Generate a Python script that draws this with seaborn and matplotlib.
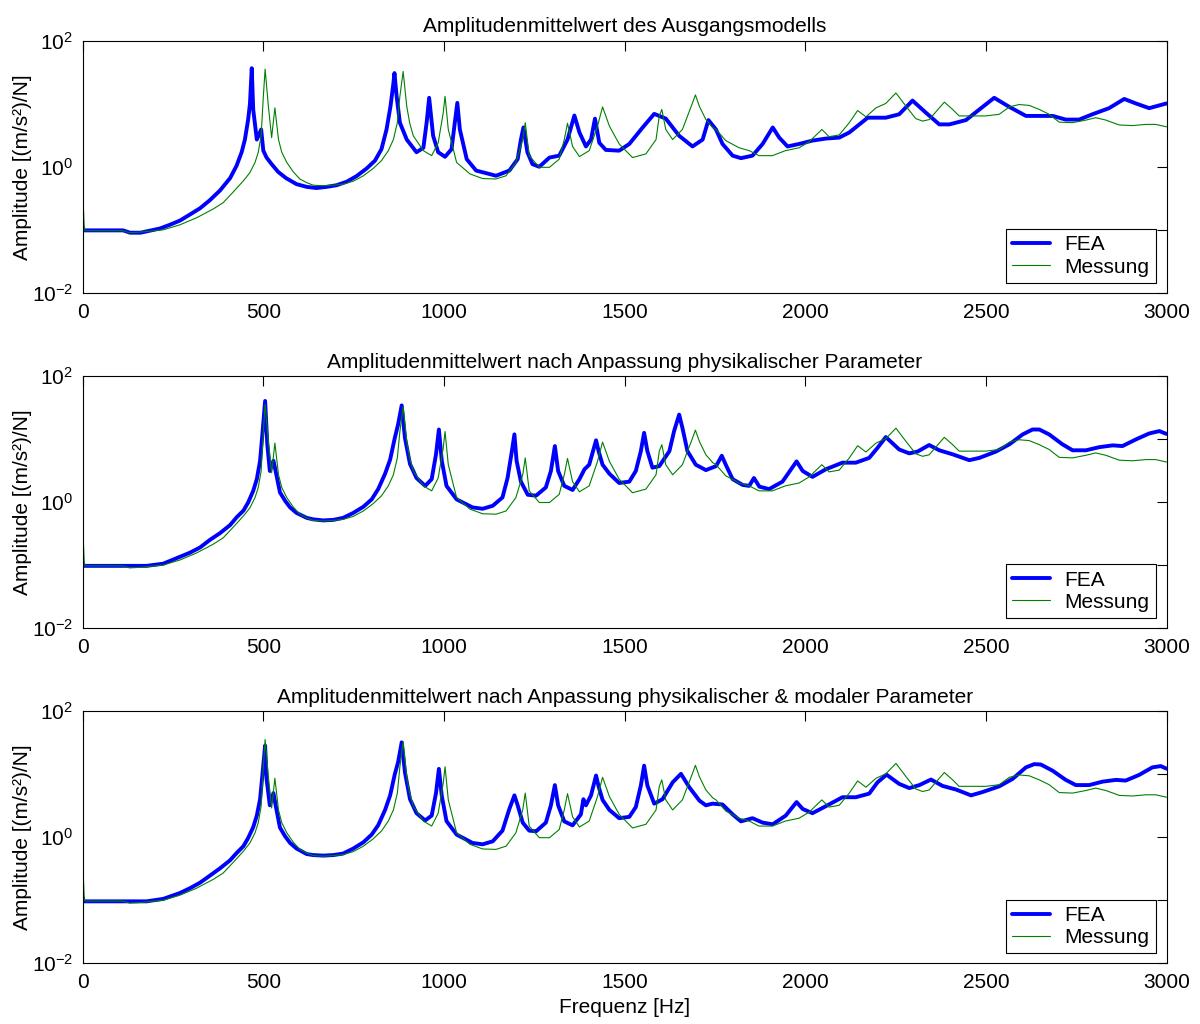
import matplotlib
matplotlib.use("Agg")
import matplotlib.pyplot as plt
import seaborn as sns
from matplotlib.ticker import FixedLocator, NullFormatter, LogFormatterSciNotation

# Messung (gleich in allen drei Bildern): (Frequenz Hz, Amplitude)
mess_pts = [
    (0, 0.10), (2, 0.23), (4, 0.12), (6, 0.097), (110, 0.097), (130, 0.090),
    (160, 0.092), (223, 0.100), (269, 0.12), (315, 0.155), (362, 0.215), (389, 0.27),
    (417, 0.40), (445, 0.60), (463, 0.81), (477, 1.17), (486, 1.7), (494, 3.1),
    (500, 13.0), (505, 35.4), (514, 9.1), (523, 2.9), (532, 8.6), (542, 2.7),
    (551, 1.7), (565, 1.17), (583, 0.83), (601, 0.64), (620, 0.56), (638, 0.51),
    (666, 0.50), (694, 0.51), (721, 0.53), (749, 0.59), (777, 0.72), (804, 0.94),
    (827, 1.25), (846, 1.8), (860, 2.7), (871, 5.0), (878, 13.1), (887, 32.5),
    (897, 9.1), (905, 5.0), (915, 3.1), (943, 1.8), (966, 1.5), (984, 2.4),
    (998, 7.2), (1003, 13.1), (1012, 3.9), (1035, 1.17), (1072, 0.77), (1107, 0.65),
    (1144, 0.64), (1172, 0.72), (1199, 1.17), (1218, 2.7), (1225, 5.0), (1236, 1.5),
    (1264, 0.98), (1292, 0.98), (1319, 1.32), (1333, 2.7), (1342, 4.9), (1356, 2.1),
    (1375, 1.45), (1402, 1.8), (1425, 4.4), (1439, 8.9), (1458, 4.4), (1485, 2.3),
    (1522, 1.4), (1559, 1.6), (1587, 2.7), (1596, 6.4), (1603, 8.1), (1614, 3.9),
    (1633, 2.7), (1660, 3.9), (1688, 10.3), (1696, 13.8), (1707, 9.1), (1725, 5.6),
    (1744, 4.2), (1753, 3.9), (1780, 2.6), (1817, 2.0), (1845, 1.8), (1872, 1.5),
    (1909, 1.5), (1934, 1.7), (1945, 1.8), (1983, 2.0), (2011, 2.5), (2046, 3.9),
    (2066, 3.0), (2094, 3.2), (2122, 5.0), (2145, 7.8), (2168, 6.2), (2196, 8.6),
    (2223, 10.1), (2251, 14.8), (2279, 9.1), (2306, 5.8), (2325, 5.3), (2343, 5.6),
    (2385, 10.6), (2408, 8.1), (2426, 6.4), (2463, 6.4), (2500, 6.4), (2537, 6.8),
    (2565, 8.9), (2592, 9.7), (2620, 9.4), (2648, 8.1), (2675, 6.8), (2703, 5.1),
    (2740, 5.0), (2777, 5.5), (2804, 6.0), (2832, 5.5), (2869, 4.6), (2906, 4.5),
    (2943, 4.7), (2970, 4.7), (3000, 4.3),
]

# FEA Ausgangsmodell
fea1_pts = [
    (0, 0.098), (112, 0.098), (131, 0.090), (160, 0.090), (214, 0.105), (241, 0.12),
    (269, 0.14), (297, 0.175), (325, 0.22), (352, 0.295), (380, 0.42), (408, 0.66),
    (426, 1.04), (440, 1.7), (449, 2.7), (458, 5.6), (463, 10.0), (468, 36.6),
    (472, 8.1), (482, 2.7), (494, 3.9), (500, 1.8), (509, 1.4), (523, 1.1),
    (541, 0.83), (563, 0.66), (592, 0.53), (620, 0.48), (647, 0.46), (675, 0.48),
    (703, 0.51), (731, 0.58), (758, 0.71), (786, 0.94), (809, 1.25), (827, 1.9),
    (841, 3.9), (852, 9.1), (860, 21.0), (863, 30.6), (869, 13.1), (878, 5.0),
    (897, 2.7), (924, 1.7), (943, 2.0), (952, 5.0), (959, 12.4), (970, 3.1),
    (984, 1.7), (1003, 1.44), (1021, 1.9), (1030, 5.0), (1037, 10.3), (1044, 3.9),
    (1063, 1.32), (1089, 0.87), (1125, 0.77), (1144, 0.72), (1181, 0.87), (1204, 1.32),
    (1213, 2.7), (1220, 4.2), (1231, 1.7), (1245, 1.1), (1264, 1.0), (1292, 1.4),
    (1319, 1.5), (1342, 2.7), (1361, 6.5), (1375, 3.5), (1393, 2.1), (1407, 2.7),
    (1418, 5.8), (1430, 2.4), (1448, 1.85), (1485, 1.8), (1513, 2.3), (1550, 4.2),
    (1582, 6.9), (1614, 5.8), (1651, 3.1), (1688, 2.1), (1716, 2.7), (1732, 5.5),
    (1753, 3.9), (1771, 2.3), (1799, 1.5), (1822, 1.37), (1854, 1.5), (1882, 2.3),
    (1910, 4.2), (1928, 2.9), (1951, 2.1), (1983, 2.3), (2020, 2.6), (2057, 2.8),
    (2094, 2.9), (2122, 3.5), (2173, 6.0), (2223, 6.0), (2260, 6.8), (2297, 11.2),
    (2334, 7.2), (2371, 4.7), (2399, 4.7), (2445, 5.5), (2482, 8.1), (2523, 12.4),
    (2565, 8.9), (2611, 6.4), (2685, 6.4), (2721, 5.6), (2758, 5.6), (2795, 6.8),
    (2841, 8.5), (2883, 11.9), (2915, 10.1), (2952, 8.5), (2980, 9.4), (3000, 10.1),
]

# FEA nach Anpassung physikalischer Parameter
fea2_pts = [
    (0, 0.097), (177, 0.097), (223, 0.105), (269, 0.135), (297, 0.157), (325, 0.19),
    (352, 0.25), (380, 0.32), (408, 0.43), (426, 0.57), (445, 0.73), (458, 0.98),
    (472, 1.5), (482, 2.3), (491, 4.5), (498, 13.0), (505, 40.0), (511, 8.2),
    (518, 3.1), (528, 4.5), (534, 3.1), (546, 1.42), (560, 1.05), (574, 0.82),
    (592, 0.67), (620, 0.56), (638, 0.53), (666, 0.51), (694, 0.52), (721, 0.56),
    (749, 0.67), (777, 0.84), (800, 1.1), (818, 1.6), (837, 2.8), (851, 4.7),
    (864, 10.4), (873, 16.9), (883, 34.0), (892, 10.4), (906, 4.0), (924, 2.4),
    (948, 1.8), (966, 2.3), (978, 5.7), (986, 14.1), (994, 4.5), (1007, 1.8),
    (1035, 1.1), (1079, 0.82), (1107, 0.78), (1135, 0.87), (1162, 1.18), (1176, 2.4),
    (1188, 6.4), (1195, 11.8), (1201, 4.5), (1213, 2.1), (1232, 1.3), (1255, 1.26),
    (1282, 1.7), (1296, 3.1), (1307, 7.7), (1316, 3.1), (1333, 1.8), (1356, 1.55),
    (1375, 2.3), (1389, 3.3), (1402, 3.9), (1421, 9.5), (1428, 6.4), (1439, 3.9),
    (1458, 2.8), (1485, 2.0), (1513, 2.1), (1531, 3.1), (1545, 6.4), (1554, 12.5),
    (1563, 6.4), (1577, 3.5), (1596, 3.7), (1624, 6.4), (1637, 13.3), (1651, 24.3),
    (1660, 15.0), (1674, 6.4), (1697, 3.9), (1725, 3.2), (1753, 3.7), (1769, 5.4),
    (1780, 3.9), (1799, 2.3), (1827, 1.86), (1845, 1.8), (1858, 2.4), (1873, 1.75),
    (1900, 1.6), (1937, 2.1), (1964, 3.5), (1976, 4.4), (1993, 3.1), (2020, 2.5),
    (2057, 3.3), (2103, 4.2), (2140, 4.2), (2177, 5.0), (2200, 7.2), (2223, 10.7),
    (2260, 6.8), (2288, 5.9), (2311, 6.3), (2343, 8.0), (2371, 6.6), (2408, 5.7),
    (2454, 4.6), (2482, 5.0), (2528, 6.3), (2565, 8.2), (2602, 11.8), (2629, 14.1),
    (2648, 14.1), (2675, 11.8), (2712, 8.2), (2740, 6.6), (2777, 6.6), (2814, 7.4),
    (2851, 7.9), (2878, 7.7), (2915, 9.8), (2952, 12.2), (2980, 13.3), (3000, 12.0),
]

# FEA nach Anpassung physikalischer & modaler Parameter
fea3_pts = [
    (0, 0.096), (177, 0.096), (223, 0.105), (269, 0.13), (297, 0.155), (325, 0.19),
    (352, 0.245), (380, 0.32), (408, 0.43), (426, 0.56), (445, 0.72), (458, 0.97),
    (472, 1.44), (482, 2.2), (491, 4.0), (498, 10.5), (505, 28.3), (509, 8.4),
    (518, 3.2), (528, 5.0), (535, 3.0), (546, 1.42), (560, 1.04), (574, 0.81),
    (592, 0.66), (620, 0.54), (638, 0.52), (666, 0.51), (694, 0.52), (721, 0.55),
    (749, 0.66), (777, 0.83), (800, 1.1), (818, 1.55), (837, 2.7), (851, 4.6),
    (864, 10.0), (873, 15.4), (883, 31.9), (892, 10.7), (906, 4.0), (924, 2.4),
    (948, 1.84), (966, 2.2), (978, 5.0), (986, 12.1), (994, 4.5), (1007, 1.8),
    (1035, 1.1), (1079, 0.81), (1107, 0.77), (1135, 0.86), (1162, 1.27), (1181, 2.8),
    (1195, 4.6), (1204, 3.2), (1218, 1.7), (1236, 1.27), (1255, 1.24), (1282, 1.7),
    (1296, 3.2), (1307, 6.7), (1316, 3.2), (1333, 1.78), (1356, 1.54), (1379, 2.3),
    (1386, 4.0), (1393, 3.2), (1407, 4.6), (1421, 9.5), (1428, 6.4), (1439, 3.9),
    (1458, 2.7), (1485, 2.0), (1513, 2.1), (1531, 3.0), (1545, 6.6), (1554, 13.6),
    (1563, 6.6), (1582, 3.4), (1605, 4.0), (1633, 7.4), (1656, 10.1), (1679, 6.2),
    (1707, 3.8), (1725, 3.2), (1743, 3.4), (1771, 3.3), (1799, 2.3), (1822, 1.78),
    (1854, 2.0), (1882, 1.7), (1910, 1.6), (1946, 2.2), (1976, 3.6), (1993, 2.8),
    (2020, 2.4), (2057, 3.1), (2103, 4.3), (2140, 4.3), (2177, 4.9), (2200, 7.4),
    (2225, 9.8), (2260, 7.0), (2288, 6.0), (2316, 6.7), (2348, 8.2), (2380, 6.5),
    (2417, 5.7), (2459, 4.6), (2491, 5.2), (2537, 6.4), (2574, 8.4), (2611, 12.8),
    (2634, 14.4), (2652, 14.2), (2685, 11.3), (2721, 8.1), (2749, 6.7), (2786, 6.7),
    (2823, 7.6), (2860, 8.1), (2887, 7.9), (2924, 9.7), (2961, 12.8), (2984, 13.4),
    (3000, 12.2),
]

titles = [
    "Amplitudenmittelwert des Ausgangsmodells",
    "Amplitudenmittelwert nach Anpassung physikalischer Parameter",
    "Amplitudenmittelwert nach Anpassung physikalischer & modaler Parameter",
]
x_ticks = [0, 500, 1000, 1500, 2000, 2500, 3000]

sns.set_theme(style="white")
plt.rcParams['font.family'] = ['Liberation Sans', 'DejaVu Sans']
plt.rcParams['axes.unicode_minus'] = False
for key in ['text.color', 'axes.labelcolor', 'xtick.color', 'ytick.color']:
    plt.rcParams[key] = 'black'
fs = 15

fig, axes = plt.subplots(3, 1, figsize=(12, 10.24), dpi=100)
fig.subplots_adjust(left=0.0689, right=0.9721, top=0.9603, bottom=0.0593, hspace=0.329)

for ax, title, fea in zip(axes, titles, [fea1_pts, fea2_pts, fea3_pts]):
    fx, fy = zip(*fea)
    mx, my = zip(*mess_pts)
    sns.lineplot(x=list(fx), y=list(fy), ax=ax, color="#0000ff", linewidth=2.8,
                 label="FEA", estimator=None, sort=False)
    sns.lineplot(x=list(mx), y=list(my), ax=ax, color="#008000", linewidth=0.8,
                 label="Messung", estimator=None, sort=False)
    ax.set_yscale("log")
    ax.set_xlim(0, 3000)
    ax.set_ylim(1e-2, 1e2)
    ax.set_xticks(x_ticks)
    ax.set_xticklabels([str(t) for t in x_ticks])
    ax.yaxis.set_major_locator(FixedLocator([1e-2, 1e0, 1e2]))
    ax.yaxis.set_major_formatter(LogFormatterSciNotation())
    ax.yaxis.set_minor_locator(FixedLocator([1e-1, 1e1]))
    ax.yaxis.set_minor_formatter(NullFormatter())
    ax.tick_params(which="both", direction="in", top=True, right=True,
                   labelsize=fs, width=0.8, color="black")
    ax.tick_params(axis="x", which="major", length=7, pad=7)
    ax.tick_params(axis="y", which="major", length=7, pad=7)
    ax.tick_params(axis="y", which="minor", length=7)
    for sp in ax.spines.values():
        sp.set_color("black")
        sp.set_linewidth(0.8)
    ax.set_title(title, fontsize=fs, pad=6)
    ax.set_ylabel("Amplitude [(m/s²)/N]", fontsize=fs, labelpad=0)
    ax.set_xlabel("")
    leg = ax.legend(loc="lower right", bbox_to_anchor=(0.990, 0.040), borderaxespad=0,
                    fontsize=fs, fancybox=False, framealpha=1, edgecolor="black",
                    handlelength=1.8, handletextpad=0.7, borderpad=0.3, labelspacing=0.15)
    leg.get_frame().set_linewidth(0.8)

axes[-1].set_xlabel("Frequenz [Hz]", fontsize=fs)

fig.savefig("out.png", dpi=100)
